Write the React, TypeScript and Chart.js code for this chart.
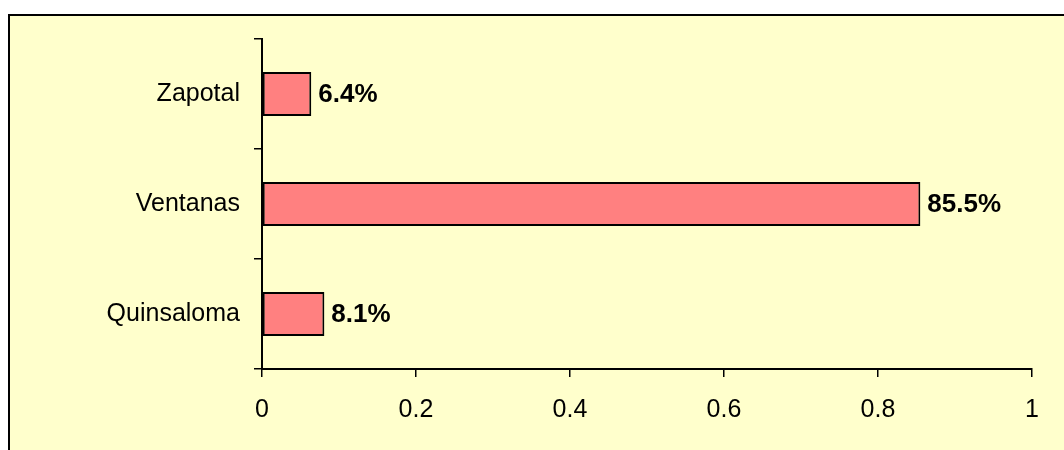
import React, { useEffect, useRef } from "react";
import { Chart, registerables } from "chart.js";

Chart.register(...registerables);

const categories = ["Zapotal", "Ventanas", "Quinsaloma"];
const shares = [0.064, 0.855, 0.081];
const xTicks = [0, 0.2, 0.4, 0.6, 0.8, 1];

const FONT = "'Liberation Sans', Arial, Helvetica, sans-serif";

const valueLabels = {
  id: "valueLabels",
  afterDatasetsDraw(chart: any) {
    const ctx = chart.ctx;
    const meta = chart.getDatasetMeta(0);
    ctx.save();
    ctx.font = `bold 26px ${FONT}`;
    ctx.fillStyle = "#000";
    ctx.textAlign = "left";
    ctx.textBaseline = "middle";
    meta.data.forEach((bar: any, i: number) => {
      const v = chart.data.datasets[0].data[i] as number;
      ctx.fillText((v * 100).toFixed(1) + "%", bar.x + 7, bar.y + 1);
    });
    ctx.restore();
  },
};

export default function App() {
  const ref = useRef<HTMLCanvasElement | null>(null);
  useEffect(() => {
    if (!ref.current) return;
    const chart = new Chart(ref.current, {
      type: "bar",
      data: {
        labels: categories,
        datasets: [
          {
            data: shares,
            backgroundColor: "#FF8080",
            borderColor: "#000000",
            borderWidth: 2,
            borderSkipped: false,
            categoryPercentage: 0.8,
            barPercentage: 0.5,
          },
        ],
      },
      options: {
        indexAxis: "y",
        animation: false,
        responsive: false,
        layout: { padding: { top: 39, right: 32, left: 0, bottom: 0 } },
        plugins: {
          legend: { display: false },
          tooltip: { enabled: false },
        },
        scales: {
          x: {
            min: 0,
            max: 1,
            afterBuildTicks: (scale: any) => {
              scale.ticks = xTicks.map((v) => ({ value: v }));
            },
            afterFit: (scale: any) => {
              scale.height = 81;
            },
            border: { display: true, color: "#000", width: 2 },
            grid: {
              drawOnChartArea: false,
              drawTicks: true,
              tickLength: 8,
              color: "#000",
              lineWidth: 1.5,
            },
            ticks: {
              color: "#000",
              padding: 18,
              maxRotation: 0,
              font: { family: FONT, size: 25 },
              callback: (v: any) => String(Number(v)),
            },
          },
          y: {
            afterFit: (scale: any) => {
              scale.width = 262;
            },
            border: { display: true, color: "#000", width: 2 },
            grid: {
              drawOnChartArea: false,
              drawTicks: true,
              tickLength: 8,
              color: "#000",
              lineWidth: 1.5,
            },
            ticks: {
              color: "#000",
              padding: 14,
              font: { family: FONT, size: 25 },
            },
          },
        },
      },
      plugins: [valueLabels],
    });
    return () => chart.destroy();
  }, []);

  return (
    <div
      style={{
        position: "fixed",
        left: 0,
        top: 0,
        width: 1064,
        height: 450,
        overflow: "hidden",
        background: "#ffffff",
      }}
    >
      <div
        style={{
          position: "absolute",
          left: 8,
          top: 14,
          width: 1100,
          height: 500,
          border: "2px solid #000",
          background: "#FFFFCC",
        }}
      />
      <canvas
        ref={ref}
        width={1064}
        height={450}
        style={{ position: "absolute", left: 0, top: 0, width: 1064, height: 450 }}
      />
    </div>
  );
}
